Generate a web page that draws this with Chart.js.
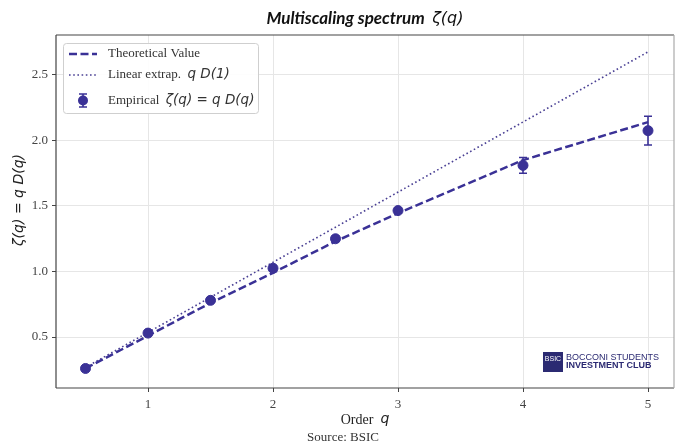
<!DOCTYPE html>
<html>
<head>
<meta charset="utf-8">
<script src="https://cdn.jsdelivr.net/npm/chart.js@4.4.1/dist/chart.umd.min.js"></script>
<style>
html,body{margin:0;padding:0;background:#fff;}
#wrap{width:675px;height:446px;position:relative;}
</style>
</head>
<body>
<div id="wrap"><canvas id="c" width="675" height="446"></canvas></div>
<script>
// ---- data ----
const qValues = [0.5, 1, 1.5, 2, 2.5, 3, 4, 5];
const empirical = [0.26, 0.53, 0.78, 1.025, 1.25, 1.465, 1.81, 2.075];
const empiricalErr = [0.01, 0.02, 0.015, 0.02, 0.02, 0.02, 0.06, 0.11];
const theoretical = [0.26, 0.51, 0.76, 0.99, 1.23, 1.445, 1.85, 2.14];
const linearQ = [0.5, 5];
const linearY = [0.268, 2.676];
const xTicks = [1, 2, 3, 4, 5];
const yTicks = [0.5, 1.0, 1.5, 2.0, 2.5];

const COLOR = '#3a3196';
const COLOR2 = '#4a4094';
const SERIF = '"Liberation Serif", "Times New Roman", serif';
const MATH = '"DejaVu Sans", sans-serif';

const pts = (xs, ys) => xs.map((x, i) => ({x: x, y: ys[i]}));

const overlay = {
  id: 'overlay',
  beforeDatasetsDraw(chart) {
    const ctx = chart.ctx, xs = chart.scales.x, ys = chart.scales.y;
    ctx.save();
    ctx.strokeStyle = COLOR; ctx.lineWidth = 1.6;
    qValues.forEach((q, i) => {
      const px = xs.getPixelForValue(q);
      const top = ys.getPixelForValue(empirical[i] + empiricalErr[i]);
      const bot = ys.getPixelForValue(empirical[i] - empiricalErr[i]);
      ctx.beginPath(); ctx.moveTo(px, top); ctx.lineTo(px, bot);
      ctx.moveTo(px - 4, top); ctx.lineTo(px + 4, top);
      ctx.moveTo(px - 4, bot); ctx.lineTo(px + 4, bot);
      ctx.stroke();
    });
    ctx.restore();
  },
  afterDraw(chart) {
    const ctx = chart.ctx, a = chart.chartArea;
    ctx.save();
    // spines
    ctx.lineWidth = 1.2;
    ctx.strokeStyle = '#444';
    ctx.beginPath();
    ctx.moveTo(a.left, a.top); ctx.lineTo(a.right, a.top);
    ctx.moveTo(a.left, a.top); ctx.lineTo(a.left, a.bottom);
    ctx.moveTo(a.left, a.bottom); ctx.lineTo(a.right, a.bottom);
    ctx.stroke();
    ctx.strokeStyle = '#aaa';
    ctx.beginPath(); ctx.moveTo(a.right, a.top); ctx.lineTo(a.right, a.bottom); ctx.stroke();

    const cx = (a.left + a.right) / 2;
    ctx.fillStyle = '#111';
    ctx.textBaseline = 'middle';
    // title
    const t1 = 'Multiscaling spectrum  ';
    const t2 = 'ζ(q)';
    ctx.font = 'italic bold 17px Lato, "Open Sans", sans-serif';
    const w1 = ctx.measureText(t1).width;
    ctx.font = 'italic 16px ' + MATH;
    const w2 = ctx.measureText(t2).width;
    let sx = cx - (w1 + w2) / 2;
    ctx.textAlign = 'left';
    ctx.font = 'italic bold 17px Lato, "Open Sans", sans-serif';
    ctx.fillText(t1, sx, 19);
    ctx.font = 'italic 16px ' + MATH;
    ctx.fillText(t2, sx + w1, 19);

    // x title
    ctx.fillStyle = '#222';
    ctx.font = '14px ' + SERIF;
    const o1 = 'Order  ';
    const ow1 = ctx.measureText(o1).width;
    ctx.font = 'italic 14px ' + MATH;
    const ow2 = ctx.measureText('q').width;
    sx = cx - (ow1 + ow2) / 2;
    ctx.font = '14px ' + SERIF; ctx.fillText(o1, sx, 420);
    ctx.font = 'italic 14px ' + MATH; ctx.fillText('q', sx + ow1, 419);

    // source
    ctx.font = '13px ' + SERIF;
    ctx.textAlign = 'center';
    ctx.fillStyle = '#333';
    ctx.fillText('Source: BSIC', 343, 438);

    // y title
    ctx.save();
    ctx.translate(19, 200);
    ctx.rotate(-Math.PI / 2);
    ctx.font = 'italic 14px ' + MATH;
    ctx.fillStyle = '#222';
    ctx.textAlign = 'center';
    ctx.fillText('ζ(q) = q D(q)', 0, 0);
    ctx.restore();

    // legend
    const lx = 63, ly = 43, lw = 195, lh = 70;
    ctx.beginPath();
    if (ctx.roundRect) ctx.roundRect(lx + 0.5, ly + 0.5, lw, lh, 3); else ctx.rect(lx + 0.5, ly + 0.5, lw, lh);
    ctx.fillStyle = 'rgba(255,255,255,0.9)'; ctx.fill();
    ctx.strokeStyle = '#cfcfcf'; ctx.lineWidth = 1; ctx.stroke();

    ctx.textAlign = 'left';
    // row 1
    ctx.strokeStyle = COLOR; ctx.lineWidth = 2.5; ctx.setLineDash([8, 3.5]);
    ctx.beginPath(); ctx.moveTo(69, 54); ctx.lineTo(97, 54); ctx.stroke();
    ctx.fillStyle = '#333';
    ctx.font = '13px ' + SERIF; ctx.fillText('Theoretical Value', 108, 54);
    // row 2
    ctx.strokeStyle = COLOR2; ctx.lineWidth = 1.6; ctx.setLineDash([1.6, 2.6]);
    ctx.beginPath(); ctx.moveTo(69, 75); ctx.lineTo(97, 75); ctx.stroke();
    ctx.setLineDash([]);
    ctx.font = '13px ' + SERIF; ctx.fillText('Linear extrap.  ', 108, 75);
    let tw = ctx.measureText('Linear extrap.  ').width;
    ctx.font = 'italic 13.5px ' + MATH; ctx.fillText('q D(1)', 108 + tw, 74);
    // row 3
    ctx.strokeStyle = COLOR; ctx.lineWidth = 1.6;
    ctx.beginPath(); ctx.moveTo(83, 94); ctx.lineTo(83, 107);
    ctx.moveTo(79, 94); ctx.lineTo(87, 94); ctx.moveTo(79, 107); ctx.lineTo(87, 107); ctx.stroke();
    ctx.fillStyle = COLOR; ctx.beginPath(); ctx.arc(83, 100.5, 5, 0, Math.PI * 2); ctx.fill();
    ctx.fillStyle = '#333';
    ctx.font = '13px ' + SERIF; ctx.fillText('Empirical  ', 108, 101);
    tw = ctx.measureText('Empirical  ').width;
    ctx.font = 'italic 13.5px ' + MATH; ctx.fillText('ζ(q) = q D(q)', 108 + tw, 100);

    // logo
    ctx.fillStyle = '#2b2a72';
    ctx.fillRect(543, 352, 20, 20);
    ctx.fillStyle = '#fff';
    ctx.font = '7px "Liberation Sans", sans-serif';
    ctx.textAlign = 'center';
    ctx.fillText('BSIC', 553, 359);
    ctx.fillStyle = '#2b2a72';
    ctx.textAlign = 'left';
    ctx.font = '9px "Liberation Sans", sans-serif';
    ctx.fillText('BOCCONI STUDENTS', 566, 357.5);
    ctx.font = 'bold 9px "Liberation Sans", sans-serif';
    ctx.fillText('INVESTMENT CLUB', 566, 366);
    ctx.restore();
  }
};

new Chart(document.getElementById('c'), {
  type: 'scatter',
  data: {
    datasets: [
      {
        label: 'Empirical ζ(q) = q D(q)',
        data: pts(qValues, empirical),
        backgroundColor: COLOR, borderColor: COLOR,
        pointRadius: 5, pointHoverRadius: 5, showLine: false
      },
      {
        label: 'Theoretical Value',
        data: pts(qValues, theoretical),
        borderColor: COLOR, backgroundColor: COLOR,
        borderWidth: 2.5, borderDash: [8, 3.5], pointRadius: 0, showLine: true, tension: 0
      },
      {
        label: 'Linear extrap. q D(1)',
        data: pts(linearQ, linearY),
        borderColor: COLOR2, backgroundColor: COLOR2,
        borderWidth: 1.6, borderDash: [1.6, 2.6], pointRadius: 0, showLine: true
      }
    ]
  },
  options: {
    responsive: false,
    animation: false,
    devicePixelRatio: 1,
    layout: {autoPadding: false, padding: {top: 35, right: 1, left: 0, bottom: 0}},
    plugins: {legend: {display: false}, title: {display: false}, tooltip: {enabled: false}},
    scales: {
      x: {
        type: 'linear', min: 0.264, max: 5.208,
        afterBuildTicks: s => { s.ticks = xTicks.map(v => ({value: v})); },
        afterFit: s => { s.height = 58; s.paddingLeft = 0; s.paddingRight = 0; },
        border: {display: false},
        grid: {color: '#e6e6e6', lineWidth: 1, tickColor: '#444', tickLength: 4, drawTicks: true},
        ticks: {color: '#444', font: {family: SERIF, size: 13}, padding: 5, callback: v => String(v)}
      },
      y: {
        type: 'linear', min: 0.111, max: 2.805,
        afterBuildTicks: s => { s.ticks = yTicks.map(v => ({value: v})); },
        afterFit: s => { s.width = 56; s.paddingTop = 0; s.paddingBottom = 0; },
        border: {display: false},
        grid: {color: '#e6e6e6', lineWidth: 1, tickColor: '#444', tickLength: 4, drawTicks: true},
        ticks: {color: '#444', font: {family: SERIF, size: 13}, padding: 4, callback: v => v.toFixed(1)}
      }
    }
  },
  plugins: [overlay]
});
</script>
</body>
</html>
